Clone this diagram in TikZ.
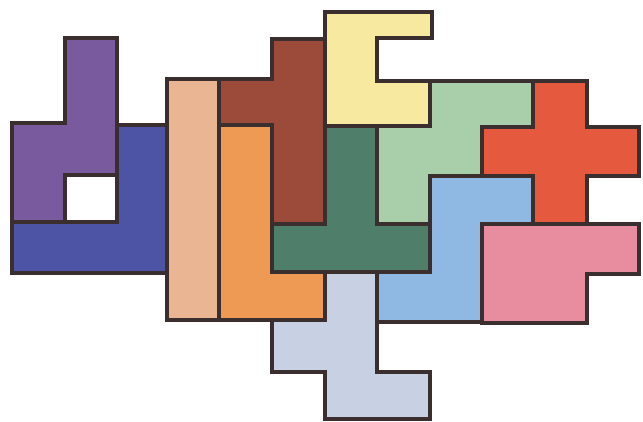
\documentclass[tikz,border=0pt]{standalone}
\usepackage{tikz}
\definecolor{pcedge}{RGB}{58,46,46}
\definecolor{pcpurple}{RGB}{122,90,158}
\definecolor{pcblue}{RGB}{78,84,165}
\definecolor{pcpeach}{RGB}{234,181,146}
\definecolor{pcbrown}{RGB}{156,74,58}
\definecolor{pcorange}{RGB}{238,154,85}
\definecolor{pcyellow}{RGB}{247,234,160}
\definecolor{pcgreen}{RGB}{79,127,106}
\definecolor{pcsage}{RGB}{168,207,170}
\definecolor{pcred}{RGB}{229,90,62}
\definecolor{pcsky}{RGB}{143,185,227}
\definecolor{pcpink}{RGB}{232,140,160}
\definecolor{pclilac}{RGB}{200,208,228}

\begin{document}
\begin{tikzpicture}[
    x=1pt, y=-1pt,
    piece/.style={draw=pcedge, line width=4pt, line join=miter}
]
  \useasboundingbox (0,0) rectangle (643,422);

  \draw[piece, fill=pcpurple] (12,123) -- (65,123) -- (65,38) -- (117,38) -- (117,175)
      -- (65,175) -- (65,222) -- (12,222) -- cycle;
  \draw[piece, fill=pcblue] (117,125) -- (167,125) -- (167,273) -- (12,273) -- (12,222)
      -- (117,222) -- cycle;
  \draw[piece, fill=pcpeach] (167,79) -- (219,79) -- (219,320) -- (167,320) -- cycle;
  \draw[piece, fill=pcbrown] (219,79) -- (272,79) -- (272,39) -- (325,39) -- (325,224)
      -- (272,224) -- (272,125) -- (219,125) -- cycle;
  \draw[piece, fill=pcorange] (219,125) -- (272,125) -- (272,272) -- (325,272) -- (325,320)
      -- (219,320) -- cycle;
  \draw[piece, fill=pcyellow] (325,12) -- (432,12) -- (432,38) -- (377,38) -- (377,81)
      -- (430,81) -- (430,126) -- (325,126) -- cycle;
  \draw[piece, fill=pcgreen] (325,126) -- (377,126) -- (377,224) -- (430,224) -- (430,272)
      -- (272,272) -- (272,224) -- (325,224) -- cycle;
  \draw[piece, fill=pcsage] (430,81) -- (533,81) -- (533,127) -- (482,127) -- (482,176)
      -- (430,176) -- (430,224) -- (377,224) -- (377,126) -- (430,126) -- cycle;
  \draw[piece, fill=pcred] (533,81) -- (587,81) -- (587,127) -- (639,127) -- (639,176)
      -- (587,176) -- (587,224) -- (533,224) -- (533,176) -- (482,176) -- (482,127)
      -- (533,127) -- cycle;
  \draw[piece, fill=pcsky] (430,176) -- (533,176) -- (533,224) -- (482,224) -- (482,322)
      -- (377,322) -- (377,272) -- (430,272) -- cycle;
  \draw[piece, fill=pcpink] (482,224) -- (639,224) -- (639,274) -- (587,274) -- (587,323)
      -- (482,323) -- cycle;
  \draw[piece, fill=pclilac] (325,272) -- (377,272) -- (377,372) -- (430,372) -- (430,419)
      -- (325,419) -- (325,372) -- (272,372) -- (272,320) -- (325,320) -- cycle;
\end{tikzpicture}
\end{document}
